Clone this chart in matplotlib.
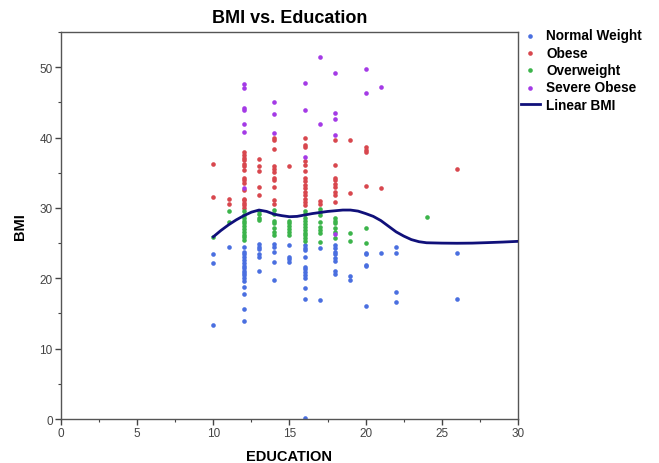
from matplotlib import pyplot as plt
from matplotlib.ticker import MultipleLocator

# BMI readings per years of education, one dict per weight class
normal_bmi = {
    10: [23.5, 22.2, 13.4],
    11: [24.5],
    12: [24.5, 23.7, 23.4, 23.0, 22.6, 22.2, 21.8, 21.5, 21.0, 20.7, 20.4,
         20.0, 19.6, 18.8, 17.8, 15.6, 13.9],
    13: [24.9, 24.5, 24.1, 23.5, 23.0, 21.1],
    14: [24.9, 24.4, 23.7, 22.3, 19.7],
    15: [24.8, 23.0, 22.7, 22.3],
    16: [24.7, 24.3, 24.0, 23.0, 21.6, 21.3, 20.9, 20.5, 20.1, 18.6, 17.0,
         0.1],
    17: [24.3, 16.9],
    18: [24.8, 24.3, 23.8, 23.4, 22.9, 22.5, 21.0, 20.6],
    19: [20.3, 19.7],
    20: [23.6, 23.4, 21.9, 21.7, 16.1],
    21: [23.6],
    22: [24.5, 23.6, 18.1, 16.6],
    26: [23.6, 17.1],
}
obese_bmi = {
    10: [36.2, 31.6],
    11: [31.2, 30.6],
    12: [37.9, 37.5, 37.1, 36.75, 36.2, 35.9, 35.4, 34.3, 33.9, 33.6, 32.5,
         31.3, 31.1, 30.7, 30.4, 30.0],
    13: [37.0, 35.9, 35.3, 33.0, 31.9],
    14: [40.0, 39.6, 38.4, 36.0, 35.6, 35.1, 34.2, 33.9, 33.0, 31.1, 30.6],
    15: [35.9],
    16: [39.9, 38.9, 38.7, 36.6, 36.1, 35.2, 34.3, 33.8, 33.3, 32.8, 32.3,
         31.8, 31.3, 30.9, 30.4],
    17: [31.0, 30.5],
    18: [39.6, 36.1, 34.3, 33.9, 33.4, 33.0, 32.2, 31.8, 30.9],
    19: [39.6, 32.1],
    20: [38.7, 38.2, 38.0, 33.1],
    21: [32.9],
    26: [35.5],
}
overweight_bmi = {
    10: [25.9],
    11: [29.6, 28.0],
    12: [29.5, 29.0, 28.6, 28.2, 27.8, 27.4, 27.0, 26.6, 26.2, 25.8, 25.4],
    13: [29.6, 29.2, 28.6, 28.3],
    14: [29.7, 29.2, 28.2, 27.8, 27.1, 26.6, 26.2],
    15: [28.2, 27.8, 27.4, 27.0, 26.6, 26.2],
    16: [29.6, 29.2, 28.5, 28.1, 27.7, 27.3, 26.9, 26.5, 26.1, 25.7, 25.3],
    17: [29.9, 29.4, 29.0, 28.0, 27.3, 26.8, 26.4, 25.1],
    18: [28.6, 28.1, 27.8, 27.1, 26.6, 25.7],
    19: [26.4, 25.3],
    20: [27.2, 25.0],
    24: [28.7],
}
severe_bmi = {
    12: [47.6, 47.1, 44.2, 43.9, 42.0, 40.8, 32.8],
    14: [45.0, 43.4, 40.7],
    16: [47.7, 43.9, 37.2],
    17: [51.4, 41.9],
    18: [49.2, 43.5, 42.6, 40.4, 26.3],
    20: [49.7, 46.3],
    21: [47.2],
}

# fitted curve
fit_edu = [10.0, 10.5, 11.0, 11.5, 12.0, 12.5, 13.0, 13.5, 14.0, 14.5, 15.0,
           15.5, 16.0, 16.5, 17.0, 17.5, 18.0, 18.5, 19.0, 19.5, 20.0, 20.5,
           21.0, 21.5, 22.0, 22.5, 23.0, 23.5, 24.0, 25.0, 26.0, 27.0, 28.0,
           29.0, 30.0]
fit_bmi = [25.9, 26.8, 27.6, 28.3, 28.9, 29.4, 29.7, 29.5, 29.1, 28.9, 28.75,
           28.8, 29.0, 29.2, 29.35, 29.5, 29.6, 29.7, 29.7, 29.55, 29.2, 28.8,
           28.2, 27.4, 26.6, 26.0, 25.5, 25.2, 25.05, 25.0, 24.98, 25.0, 25.07,
           25.15, 25.25]


def flatten(d):
    xs, ys = [], []
    for edu, vals in d.items():
        xs += [edu] * len(vals)
        ys += vals
    return xs, ys


plt.rcParams["font.family"] = ["Liberation Sans", "DejaVu Sans"]

fig = plt.figure(figsize=(6.59, 4.64), dpi=100)
ax = fig.add_axes([0.0926, 0.0948, 0.6934, 0.834])

groups = [
    (normal_bmi, "#4a6fe0", "Normal Weight"),
    (obese_bmi, "#d8474e", "Obese"),
    (overweight_bmi, "#3cb44b", "Overweight"),
    (severe_bmi, "#a43ae6", "Severe Obese"),
]
for data, color, label in groups:
    xs, ys = flatten(data)
    ax.scatter(xs, ys, s=11, c=color, linewidths=0, label=label, zorder=2)

ax.plot(fit_edu, fit_bmi, c="#10107a", lw=2.0, label="Linear BMI", zorder=3)

ax.set_xlim(0, 30)
ax.set_ylim(0, 55)
ax.xaxis.set_major_locator(MultipleLocator(5))
ax.xaxis.set_minor_locator(MultipleLocator(2.5))
ax.yaxis.set_major_locator(MultipleLocator(10))
ax.yaxis.set_minor_locator(MultipleLocator(5))
ax.tick_params(which="major", direction="out", length=4, width=1,
               color="#444444", labelsize=8.5, labelcolor="#444444", pad=2)
ax.tick_params(which="minor", direction="out", length=2.5, width=0.8,
               color="#444444")
for sp in ax.spines.values():
    sp.set_color("#555555")
    sp.set_linewidth(1.0)

ax.set_title("BMI vs. Education", fontsize=13, fontweight="bold", pad=7)
ax.set_xlabel("EDUCATION", fontsize=10.5, fontweight="bold", labelpad=7)
ax.set_ylabel("BMI", fontsize=10.5, fontweight="bold", labelpad=9)

fig.legend(loc="upper left", bbox_to_anchor=(0.79, 0.937), frameon=False,
           prop={"weight": "bold", "size": 9.8},
           handlelength=1.4, handletextpad=0.5, labelspacing=0.25,
           borderaxespad=0, borderpad=0)

fig.savefig("out.png", dpi=100)
